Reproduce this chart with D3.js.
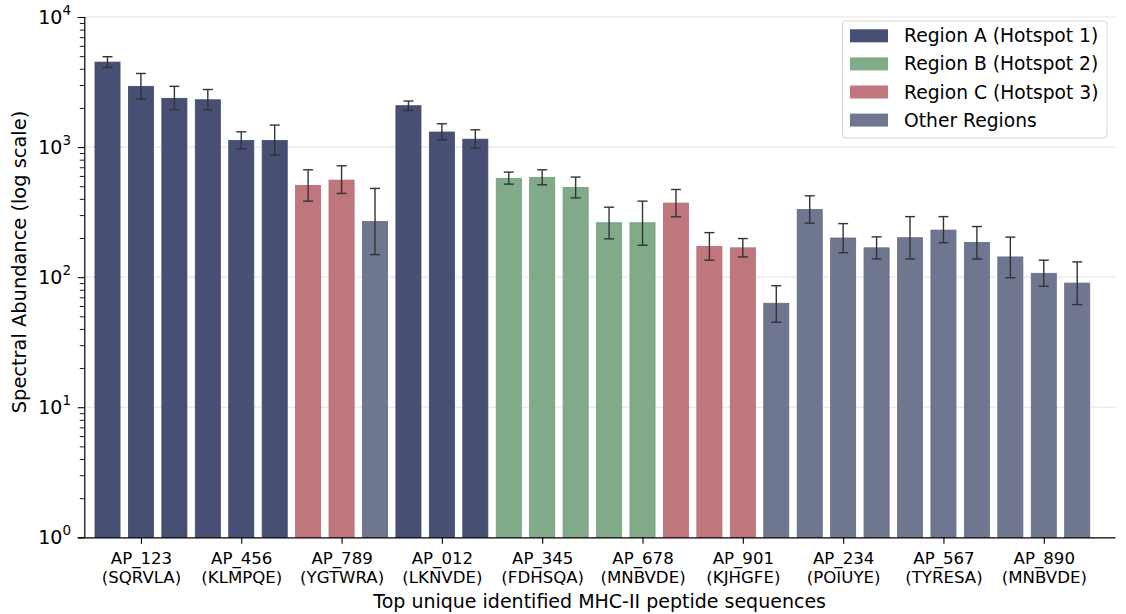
<!DOCTYPE html>
<html>
<head>
<meta charset="utf-8">
<script src="https://cdn.jsdelivr.net/npm/d3@7"></script>
<style>
  html, body { margin: 0; padding: 0; background: #fff; }
  svg { display: block; font-family: "DejaVu Sans", sans-serif; }
</style>
</head>
<body>
<svg id="chart" width="1126" height="614"></svg>
<script>
// ---- data ----
const peptideIds = ["AP_123","AP_456","AP_789","AP_012","AP_345","AP_678","AP_901","AP_234","AP_567","AP_890"];
const peptideSeqs = ["(SQRVLA)","(KLMPQE)","(YGTWRA)","(LKNVDE)","(FDHSQA)","(MNBVDE)","(KJHGFE)","(POIUYE)","(TYRESA)","(MNBVDE)"];
const barRegions = ["A","A","A","A","A","A","C","C","O","A","A","A","B","B","B","B","B","C","C","C","O","O","O","O","O","O","O","O","O","O"];
const barValues = [4500, 2930, 2370, 2310, 1125, 1125, 507, 557, 268, 2080, 1305, 1150, 575, 585, 490, 262, 262, 371, 172, 168, 63, 331, 200, 168, 201, 230, 185, 143, 107, 90];
const errLow  = [4100, 2340, 1940, 1930, 970, 867, 384, 440, 149, 1913, 1138, 982, 519, 513, 407, 197, 176, 291, 135, 143, 45, 260, 154, 138, 138, 184, 138, 99, 85, 61.5];
const errHigh = [4950, 3680, 2930, 2770, 1310, 1476, 669, 718, 481, 2259, 1511, 1358, 642, 669, 588, 345, 384, 472, 220, 198, 86, 422, 258, 204, 292, 292, 245, 203, 135, 131];
const regionKeys = ["A","B","C","O"];
const regionNames = ["Region A (Hotspot 1)","Region B (Hotspot 2)","Region C (Hotspot 3)","Other Regions"];
const regionColors = ["#474f75","#80aa88","#bf767c","#6f7690"];
const yTickValues = [1, 10, 100, 1000, 10000];
const yTickExps = ["0","1","2","3","4"];

// ---- layout ----
const svg = d3.select("#chart");
const pLeft = 84.3, pRight = 1115, pTop = 17, pBottom = 537.3;

const x = d3.scaleLinear().domain([-0.694, 30.13]).range([pLeft, pRight]);
const y = d3.scaleLog().domain([1, 10000]).range([pBottom, pTop]);
const color = d3.scaleOrdinal().domain(regionKeys).range(regionColors);
const barW = x(0.75) - x(0);

// gridlines
svg.append("g").selectAll("line").data(yTickValues.slice(1)).join("line")
  .attr("x1", pLeft).attr("x2", pRight)
  .attr("y1", d => y(d)).attr("y2", d => y(d))
  .attr("stroke", "#e2e2e2").attr("stroke-width", 1);

// bars
const idx = d3.range(barValues.length);
svg.append("g").selectAll("rect").data(idx).join("rect")
  .attr("x", i => x(i) - barW / 2)
  .attr("width", barW)
  .attr("y", i => y(barValues[i]))
  .attr("height", i => y(1) - y(barValues[i]))
  .attr("fill", i => color(barRegions[i]))
  .attr("stroke", i => d3.color(color(barRegions[i])).darker(0.25))
  .attr("stroke-width", 0.8);

// error bars
const eg = svg.append("g").attr("stroke", "#333").attr("stroke-width", 1.4);
idx.forEach(i => {
  const cx = x(i);
  eg.append("line").attr("x1", cx).attr("x2", cx).attr("y1", y(errLow[i])).attr("y2", y(errHigh[i]));
  eg.append("line").attr("x1", cx - 5).attr("x2", cx + 5).attr("y1", y(errLow[i])).attr("y2", y(errLow[i]));
  eg.append("line").attr("x1", cx - 5).attr("x2", cx + 5).attr("y1", y(errHigh[i])).attr("y2", y(errHigh[i]));
});

// y axis
const minorTicks = [];
for (let e = 0; e < 4; e++) for (let m = 2; m <= 9; m++) minorTicks.push(m * Math.pow(10, e));
const yAxisG = svg.append("g").attr("transform", `translate(${pLeft},0)`)
  .call(d3.axisLeft(y).tickValues(yTickValues).tickSize(6.5).tickFormat(""));
yAxisG.select(".domain").attr("stroke", "#000").attr("stroke-width", 1.2);
yAxisG.selectAll(".tick line").attr("stroke", "#000").attr("stroke-width", 1.1);
const yMinorG = svg.append("g").attr("transform", `translate(${pLeft},0)`)
  .call(d3.axisLeft(y).tickValues(minorTicks).tickSize(4.5).tickFormat(""));
yMinorG.select(".domain").remove();
yMinorG.selectAll(".tick line").attr("stroke", "#000").attr("stroke-width", 0.9);

// y tick labels with superscripts
yTickValues.forEach((v, k) => {
  const t = svg.append("text")
    .attr("x", 71).attr("y", y(v) + 7)
    .attr("text-anchor", "end")
    .attr("font-size", 19).attr("fill", "#000");
  t.append("tspan").text("10");
  t.append("tspan").attr("dy", -9).attr("font-size", 13.5).text(yTickExps[k]);
});

// x axis
const tickIdx = d3.range(peptideIds.length).map(k => 3 * k + 1);
const xAxisG = svg.append("g").attr("transform", `translate(0,${pBottom})`)
  .call(d3.axisBottom(x).tickValues(tickIdx).tickSize(6.5).tickSizeOuter(0).tickFormat(""));
xAxisG.select(".domain").attr("stroke", "#000").attr("stroke-width", 1.2);
xAxisG.selectAll(".tick line").attr("stroke", "#000").attr("stroke-width", 1.1);
xAxisG.selectAll(".tick").each(function(d, k) {
  const t = d3.select(this).append("text")
    .attr("fill", "#000").attr("font-size", 16.6).attr("text-anchor", "middle")
    .attr("font-family", "DejaVu Sans, sans-serif");
  t.append("tspan").attr("x", 0).attr("y", 27).text(peptideIds[k]);
  t.append("tspan").attr("x", 0).attr("y", 46).text(peptideSeqs[k]);
});

// axis titles
svg.append("text")
  .attr("x", (pLeft + pRight) / 2).attr("y", 608)
  .attr("text-anchor", "middle").attr("font-size", 19).attr("fill", "#000")
  .text("Top unique identified MHC-II peptide sequences");
svg.append("text")
  .attr("transform", `translate(25.5,262) rotate(-90)`)
  .attr("text-anchor", "middle").attr("font-size", 19.4).attr("fill", "#000")
  .text("Spectral Abundance (log scale)");

// legend
const lg = svg.append("g");
lg.append("rect").attr("x", 842.5).attr("y", 21).attr("width", 264.5).attr("height", 117)
  .attr("rx", 3).attr("fill", "#fff").attr("fill-opacity", 0.85)
  .attr("stroke", "#d6d6d6").attr("stroke-width", 1);
regionKeys.forEach((k, j) => {
  const cy = 35.8 + j * 28.1;
  lg.append("rect").attr("x", 850).attr("y", cy - 6.5).attr("width", 38).attr("height", 13)
    .attr("fill", color(k));
  lg.append("text").attr("x", 904).attr("y", cy + 6.5)
    .attr("font-size", 18.7).attr("fill", "#000").text(regionNames[j]);
});
</script>
</body>
</html>
